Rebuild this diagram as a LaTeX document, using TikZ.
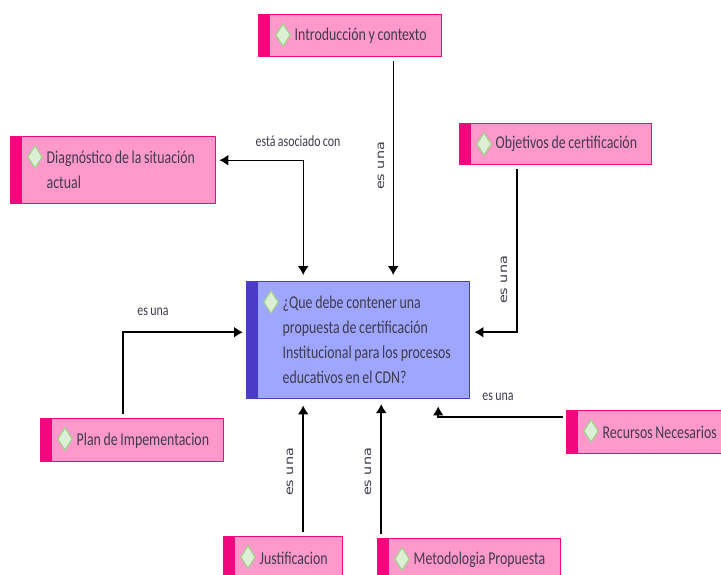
\documentclass[tikz,border=0pt]{standalone}
\usepackage{fontspec}
\setmainfont[FakeStretch=0.77,WordSpace=0.85]{Carlito}
\newfontfamily\rotfont[FakeStretch=1.25]{DejaVu Sans}
\usepackage{xcolor}
\usetikzlibrary{positioning,calc}
\usetikzlibrary{shapes.geometric,arrows.meta}

\definecolor{rosa}{HTML}{FF99CC}
\definecolor{rosaborde}{HTML}{F2077F}
\definecolor{azul}{HTML}{9FA6FF}
\definecolor{azulborde}{HTML}{4A3CC6}
\definecolor{gemfill}{HTML}{DDF0D6}
\definecolor{gemborde}{HTML}{9FD08A}
\definecolor{texto}{HTML}{3F3A4C}

\tikzset{
    caja/.style={rectangle,draw=#1,line width=1.4pt,anchor=north west,align=flush left,inner sep=0pt,
        font=\fontsize{18}{25}\selectfont,text=texto,
        execute at begin node={\leftskip=32pt\relax},
        path picture={\fill[#1] (path picture bounding box.north west) rectangle ($(path picture bounding box.south west)+(11,0)$);}},
    conceptobox/.style={caja=rosaborde,fill=rosa},
    preguntabox/.style={caja=azulborde,fill=azul},
    gem/.style={diamond,draw=gemborde,fill=gemfill,line width=1.2pt,minimum width=15pt,minimum height=23pt,inner sep=0pt},
    enlace/.style={draw=black,line width=1.9pt,>={Latex[length=9pt,width=11pt]}},
    rotulo/.style={font=\fontsize{15.5}{18}\selectfont,text=texto},
    rotulov/.style={font=\rotfont\fontsize{11.5}{14}\selectfont,text=texto,rotate=90}
}

\begin{document}
\begin{tikzpicture}[x=1pt,y=-1pt]
    \clip (0,0) rectangle (721,575);

    % central box
    \node (pregunta) [preguntabox,minimum width=223pt,minimum height=117pt,text width=215pt] at (246,281) {¿Que debe contener una\\propuesta de certificación\\Institucional para los procesos\\educativos en el CDN?};

    % boxes round it
    \node (intro) [conceptobox,minimum width=183pt,minimum height=42pt,text width=175pt] at (258,14) {Introducción y contexto};
    \node (diagnostico) [conceptobox,minimum width=205pt,minimum height=67pt,text width=197pt] at (10,136) {Diagnóstico de la situación\\actual};
    \node (objetivos) [conceptobox,minimum width=192pt,minimum height=41pt,text width=184pt] at (459,123) {Objetivos de certificación};
    \node (plan) [conceptobox,minimum width=183pt,minimum height=43pt,text width=175pt] at (40,418) {Plan de Impementacion};
    \node (recursos) [conceptobox,minimum width=160pt,minimum height=43pt,text width=152pt] at (566,410) {Recursos Necesarios};
    \node (justificacion) [conceptobox,minimum width=119pt,minimum height=43pt,text width=111pt] at (223,536) {Justificacion};
    \node (metodologia) [conceptobox,minimum width=183pt,minimum height=43pt,text width=175pt] at (377,538) {Metodologia Propuesta};

    \foreach \n in {pregunta,intro,diagnostico,objetivos,plan,recursos,justificacion,metodologia}
        \node (gem\n) [gem] at ($(\n.north west)+(25,21)$) {};

    % connectors
    \draw[enlace,->,line width=1.4pt] ($(intro.south)+(43,4)$) -- ($(pregunta.north)+(35,-6)$);
    \draw[enlace,<->,line width=1.2pt] ($(diagnostico.east)+(3,-10)$) -| ($(pregunta.north)+(-55,-6)$);
    \draw[enlace,->] ($(objetivos.south)+(-39,4)$) |- ($(pregunta.east)+(4,-8)$);
    \draw[enlace,->] ($(plan.north)+(-9,-4)$) |- ($(pregunta.west)+(-3,-8)$);
    \draw[enlace,->] ($(recursos.west)+(-3,-15)$) -| ($(pregunta.south)+(80,7)$);
    \draw[enlace,->] ($(justificacion.north)+(20,-4)$) -- ($(pregunta.south)+(-55,6)$);
    \draw[enlace,->] ($(metodologia.north)+(-88,-4)$) -- ($(metodologia.north)+(-88,-134)$);

    % labels
    \node (lbasociado) [rotulo] at (298,141) {está asociado con};
    \node (lbplan) [rotulo] at (153,312) {es una};
    \node (lbrecursos) [rotulo] at (498,397) {es una};
    \node (lbintro) [rotulov] at (381,166) {es una};
    \node (lbobjetivos) [rotulov] at (504,280) {es una};
    \node (lbjust) [rotulov] at (290,472) {es una};
    \node (lbmetod) [rotulov] at (368,472) {es una};
\end{tikzpicture}
\end{document}
